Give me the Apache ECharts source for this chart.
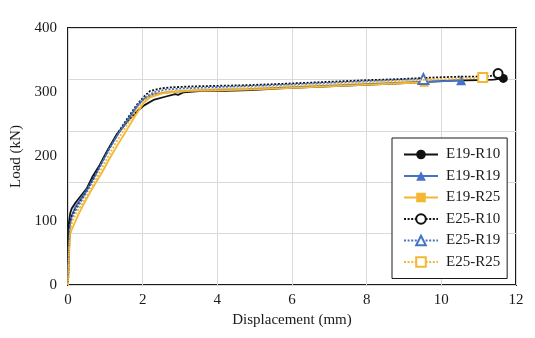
<!DOCTYPE html>
<html>
<head>
<meta charset="utf-8">
<script src="https://cdn.jsdelivr.net/npm/echarts@6/dist/echarts.min.js"></script>
<style>html,body{margin:0;padding:0;background:#fff}#c{width:535px;height:338px}</style>
</head>
<body>
<div id="c"></div>
<script>
var seriesNames = ['E19-R10', 'E19-R19', 'E19-R25', 'E25-R10', 'E25-R19', 'E25-R25'];
var xTicks = [0, 2, 4, 6, 8, 10, 12];
var yTicks = [0, 100, 200, 300, 400];

var e19r10 = [[0,0],[0.01,50],[0.02,95],[0.06,112],[0.1,119],[0.2,128],[0.32,137],[0.5,150],[0.65,168],[0.85,187],[1.04,208],[1.3,234],[1.6,255],[1.84,270],[2.05,280],[2.29,288],[2.6,293],[2.87,297],[2.95,296],[3.1,300],[3.6,302],[4.2,302],[4.9,303.5],[5.7,306],[6.5,308],[7.3,310],[8.1,312],[8.9,314],[9.6,316],[10.3,318],[11,319],[11.4,319.5],[11.66,321.5]];
var e19r19 = [[0,0],[0.02,60],[0.05,92],[0.1,108],[0.2,122],[0.35,135],[0.5,148],[0.7,168],[0.9,190],[1.1,212],[1.35,236],[1.6,257],[1.85,278],[2.05,290],[2.3,297],[2.7,300],[3.2,302],[4,304],[4.8,305],[5.7,307],[6.5,309],[7.3,311],[8.1,313],[8.9,315],[9.6,316.5],[10.1,317.5],[10.53,318.5]];
var e19r25 = [[0,0],[0.03,50],[0.06,80],[0.1,86],[0.28,110],[0.45,129],[0.63,148],[0.9,174],[1.125,198],[1.35,220],[1.57,241],[1.8,263],[2.02,283],[2.2,292],[2.5,298],[2.73,300],[3.27,302],[4,303],[4.8,304],[5.7,306],[6.5,308],[7.3,310],[8.1,312],[8.9,314],[9.54,315.5]];
var e25r10 = [[0,0],[0.02,55],[0.04,90],[0.08,105],[0.19,117],[0.35,132],[0.5,146],[0.7,168],[0.9,191],[1.1,213],[1.35,238],[1.6,260],[1.85,281],[2.05,294],[2.2,302],[2.5,306],[2.73,307.5],[3.27,309],[4,310],[4.8,311],[5.7,313],[6.5,315],[7.3,317],[8.1,319],[8.9,320.5],[9.6,322.5],[10.3,324],[11,324.5],[11.3,325],[11.52,329]];
var e25r19 = [[0,0],[0.02,50],[0.05,88],[0.1,103],[0.2,116],[0.35,130],[0.5,145],[0.7,166],[0.9,189],[1.1,211],[1.35,236],[1.6,258],[1.85,280],[2.05,292],[2.3,300],[2.6,304],[3.1,306],[4,308],[4.8,309.5],[5.7,311.5],[6.5,313.5],[7.3,315.5],[8.1,317.5],[8.9,319.5],[9.52,320.5]];
var e25r25 = [[0,0],[0.03,55],[0.06,85],[0.12,100],[0.25,115],[0.4,128],[0.6,148],[0.8,170],[1.0,192],[1.25,218],[1.5,242],[1.75,265],[1.95,282],[2.15,293],[2.4,299],[2.8,302],[3.4,304],[4.2,305.5],[5,307],[5.7,309],[6.5,311],[7.3,313],[8.1,315.5],[8.9,317.5],[9.6,319.5],[10.3,321],[10.8,322],[11.11,323]];

var allData = [e19r10, e19r19, e19r25, e25r10, e25r19, e25r25];
var colors = ['#111111', '#4472C4', '#F4B731', '#111111', '#4472C4', '#F4B731'];
var symbols = ['circle', 'triangle', 'rect', 'emptyCircle', 'emptyTriangle', 'emptyRect'];
var symSizes = [9, 10, 9, 9, 10, 9];
var dotted = [false, false, false, true, true, true];

var FONT = '"Liberation Serif", "Times New Roman", serif';

var series = allData.map(function (d, i) {
  var last = d.length - 1;
  return {
    name: seriesNames[i],
    type: 'line',
    data: d,
    symbol: symbols[i],
    showAllSymbol: true,
    symbolSize: function (v, p) { return p.dataIndex === last ? symSizes[i] : 0; },
    lineStyle: { color: colors[i], width: 1.8, type: dotted[i] ? [2, 1.6] : 'solid' },
    itemStyle: { color: colors[i], borderColor: colors[i], borderWidth: dotted[i] ? 1 : 0 },
    color: colors[i],
    emphasis: { disabled: true },
    animation: false,
    z: 2 + i
  };
});

var chart = echarts.init(document.getElementById('c'));
chart.setOption({
  animation: false,
  backgroundColor: '#ffffff',
  grid: { left: 68, right: 19, top: 28, bottom: 53, show: true, borderColor: '#1a1a1a', borderWidth: 2, containLabel: false },
  legend: {
    orient: 'vertical',
    left: 392, top: 138,
    padding: [9, 7, 9, 11],
    itemWidth: 34, itemHeight: 12, itemGap: 6.5,
    backgroundColor: '#ffffff',
    borderColor: '#1a1a1a', borderWidth: 1,
    data: seriesNames,
    textStyle: { fontFamily: FONT, fontSize: 15, color: '#1a1a1a', padding: [0, 0, 0, 3] }
  },
  xAxis: {
    type: 'value', min: xTicks[0], max: xTicks[xTicks.length - 1], interval: 2,
    name: 'Displacement (mm)', nameLocation: 'middle', nameGap: 27,
    nameTextStyle: { fontFamily: FONT, fontSize: 15, color: '#1a1a1a' },
    axisLine: { show: false }, axisTick: { show: false },
    axisLabel: { fontFamily: FONT, fontSize: 15, color: '#1a1a1a', margin: 8 },
    splitLine: { show: true, lineStyle: { color: '#d9d9d9', width: 1 } }
  },
  yAxis: [{
    type: 'value', min: yTicks[0], max: yTicks[yTicks.length - 1], interval: 100,
    name: 'Load (kN)', nameLocation: 'middle', nameGap: 44,
    nameTextStyle: { fontFamily: FONT, fontSize: 15, color: '#1a1a1a' },
    axisLine: { show: false }, axisTick: { show: false },
    axisLabel: { fontFamily: FONT, fontSize: 15, color: '#1a1a1a', margin: 11 },
    splitLine: { show: false }
  }, {
    type: 'value', min: 0, max: 400, interval: 80, position: 'left',
    axisLine: { show: false }, axisTick: { show: false }, axisLabel: { show: false },
    splitLine: { show: true, lineStyle: { color: '#d9d9d9', width: 1 } }
  }],
  series: series
});
</script>
</body>
</html>
